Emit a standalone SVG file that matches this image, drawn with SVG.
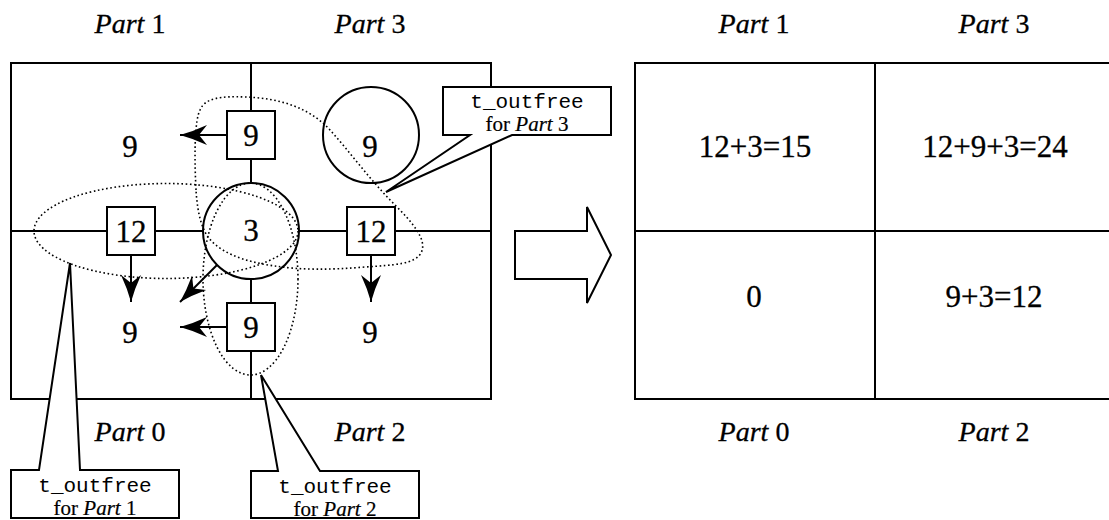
<svg xmlns="http://www.w3.org/2000/svg" width="1109" height="520" viewBox="0 0 1109 520">
<defs>
<style>
.ln{stroke:#000;stroke-width:2;fill:none}
.wf{stroke:#000;stroke-width:2;fill:#fff}
.dot{stroke:#000;stroke-width:1.6;fill:none;stroke-dasharray:1.6 2.6}
.num{font-family:"Liberation Serif","Times New Roman",serif;font-size:31px;text-anchor:middle;fill:#000;stroke:#000;stroke-width:0.3}
.lbl{font-family:"Liberation Serif","Times New Roman",serif;font-size:28px;text-anchor:middle;fill:#000;stroke:#000;stroke-width:0.3}
.it{font-style:italic}
.mono{font-family:"Liberation Mono","Courier New",monospace;font-size:21px;text-anchor:middle;fill:#000}
.ser{font-family:"Liberation Serif","Times New Roman",serif;font-size:21px;text-anchor:middle;fill:#000;stroke:#000;stroke-width:0.2}
.arr{stroke:#000;stroke-width:2;fill:none;marker-end:url(#ah)}
</style>
<marker id="ah" markerUnits="userSpaceOnUse" markerWidth="34" markerHeight="26" viewBox="-31 -13 34 26" refX="0" refY="0" orient="auto" overflow="visible">
<path d="M0,0 Q-13,-3.5 -27,-10 L-19,0 L-27,10 Q-13,3.5 0,0 Z" fill="#000"/>
</marker>
</defs>

<g id="left-grid">
<rect x="11" y="63" width="480" height="336" class="ln"/>
<line x1="251" y1="63" x2="251" y2="399" class="ln"/>
<line x1="11" y1="231" x2="491" y2="231" class="ln"/>
</g>

<g id="labels-left">
<text x="130" y="33" class="lbl"><tspan class="it">Part</tspan> 1</text>
<text x="370" y="33" class="lbl"><tspan class="it">Part</tspan> 3</text>
<text x="130" y="441" class="lbl"><tspan class="it">Part</tspan> 0</text>
<text x="370" y="441" class="lbl"><tspan class="it">Part</tspan> 2</text>
</g>

<g id="connectors">
<line x1="227" y1="135" x2="180" y2="135" class="arr"/>
<line x1="227" y1="327" x2="180" y2="327" class="arr"/>
<line x1="131" y1="255" x2="131" y2="302" class="arr"/>
<line x1="371" y1="255" x2="371" y2="302" class="arr"/>
<line x1="217" y1="265" x2="180" y2="302" class="arr"/>
</g>

<g id="cell-values">
<text x="130" y="157" class="num">9</text>
<text x="130" y="343" class="num">9</text>
<text x="370" y="343" class="num">9</text>
</g>

<g id="node-circle-9">
<circle cx="371" cy="135" r="48" class="ln"/>
<text x="370" y="157" class="num">9</text>
</g>

<g id="node-circle-3">
<circle cx="251" cy="231" r="48" class="wf"/>
<text x="251" y="241" class="num">3</text>
</g>

<g id="node-box-top">
<rect x="227" y="111" width="48" height="48" class="wf"/>
<text x="251" y="146" class="num">9</text>
</g>
<g id="node-box-bottom">
<rect x="227" y="303" width="48" height="48" class="wf"/>
<text x="251" y="338" class="num">9</text>
</g>
<g id="node-box-left">
<rect x="107" y="207" width="48" height="48" class="wf"/>
<text x="131" y="242" class="num">12</text>
</g>
<g id="node-box-right">
<rect x="347" y="207" width="48" height="48" class="wf"/>
<text x="371" y="242" class="num">12</text>
</g>

<g id="groups">
<ellipse cx="166" cy="231" rx="132" ry="47.5" class="dot"/>
<ellipse cx="250.5" cy="279" rx="47.5" ry="96" class="dot"/>
<path d="M196,190 C194,150 195,120 200,110 C205,98 220,96 245,97 C280,98 310,108 330,130 C350,152 370,180 395,205 C412,222 428,240 421,253 C415,264 395,265 365,267 C330,270 300,270 275,266 C245,262 215,252 205,232 C199,220 197,205 196,190 Z" class="dot"/>
</g>

<g id="callout-part1">
<path d="M11,470 L39,470 L70,263 L80,470 L179,470 L179,518 L11,518 Z" class="wf"/>
<text x="95" y="492" class="mono">t_outfree</text>
<text x="95" y="515" class="ser">for <tspan class="it">Part</tspan> 1</text>
</g>
<g id="callout-part2">
<path d="M251,471 L278,471 L261,375 L320,471 L419,471 L419,518 L251,518 Z" class="wf"/>
<text x="335" y="493" class="mono">t_outfree</text>
<text x="335" y="516" class="ser">for <tspan class="it">Part</tspan> 2</text>
</g>
<g id="callout-part3">
<path d="M443,87 L611,87 L611,135 L512,135 L386,192 L470,135 L443,135 Z" class="wf"/>
<text x="527" y="108" class="mono">t_outfree</text>
<text x="527" y="131" class="ser">for <tspan class="it">Part</tspan> 3</text>
</g>

<g id="big-arrow">
<polygon points="515,231 587,231 587,207 611,255 587,303 587,279 515,279" class="wf"/>
</g>

<g id="right-grid">
<rect x="635" y="63" width="480" height="336" class="ln"/>
<line x1="875" y1="63" x2="875" y2="399" class="ln"/>
<line x1="635" y1="231" x2="1115" y2="231" class="ln"/>
<text x="755" y="157" class="num">12+3=15</text>
<text x="995" y="157" class="num">12+9+3=24</text>
<text x="754" y="307" class="num">0</text>
<text x="994" y="307" class="num">9+3=12</text>
<text x="754" y="33" class="lbl"><tspan class="it">Part</tspan> 1</text>
<text x="994" y="33" class="lbl"><tspan class="it">Part</tspan> 3</text>
<text x="754" y="441" class="lbl"><tspan class="it">Part</tspan> 0</text>
<text x="994" y="441" class="lbl"><tspan class="it">Part</tspan> 2</text>
</g>
</svg>
